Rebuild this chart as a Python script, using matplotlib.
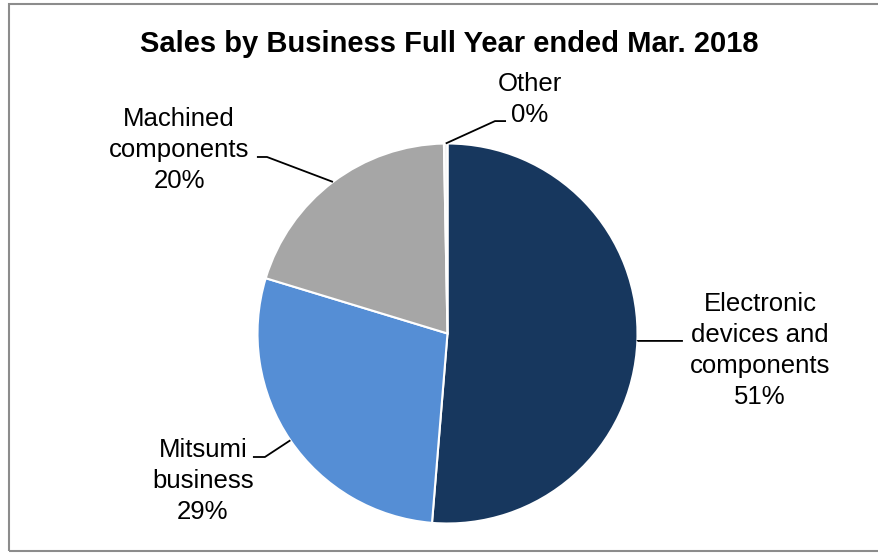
import matplotlib.pyplot as plt
import numpy as np
from matplotlib.patches import Rectangle

# Sales share by business (percent), clockwise from 12 o'clock
labels = ['Electronic\ndevices and\ncomponents', 'Mitsumi\nbusiness', 'Machined\ncomponents', 'Other']
shares = [51.3, 28.4, 20.0, 0.3]
shown_pct = ['51%', '29%', '20%', '0%']
colors = ['#17375E', '#558ED5', '#A6A6A6', '#F2F2F2']

# label layout (data units of the pie, radius = 1)
text_pos = [(1.645, -0.088), (-1.287, -0.775), (-1.413, 0.964), (0.434, 1.233)]
elbow_pos = [(1.0, -0.039), (-0.961, -0.65), (-0.95, 0.929), (0.25, 1.118)]
end_pos = [(1.239, -0.039), (-1.024, -0.65), (-1.003, 0.929), (0.308, 1.118)]

plt.rcParams['font.family'] = ['Liberation Sans', 'DejaVu Sans']

W, H = 879, 553
fig = plt.figure(figsize=(W / 100, H / 100), dpi=100)

# outer frame
fig.patches.append(Rectangle((9 / W, 1 - 551 / H), 1.0, (551 - 4) / H,
                             transform=fig.transFigure, fill=False,
                             edgecolor='#8C8C8C', linewidth=1.5))

fig.text(449.5 / W, 1 - 44 / H, 'Sales by Business Full Year ended Mar. 2018',
         ha='center', va='center', fontsize=21, fontweight='bold')

cx, cy, r = 447.5, 333.5, 190
ax = fig.add_axes([(cx - r) / W, (H - cy - r) / H, 2 * r / W, 2 * r / H])
wedges, _ = ax.pie(shares, colors=colors, startangle=90, counterclock=False,
                   radius=1, wedgeprops=dict(edgecolor='white', linewidth=1.5))
ax.set_xlim(-1, 1)
ax.set_ylim(-1, 1)
ax.set_aspect('equal')
ax.axis('off')

for w, lab, pct, tp, el, en in zip(wedges, labels, shown_pct, text_pos, elbow_pos, end_pos):
    mid = np.deg2rad((w.theta1 + w.theta2) / 2)
    sx, sy = np.cos(mid), np.sin(mid)
    ax.plot([sx, el[0], en[0]], [sy, el[1], en[1]], color='black', lw=1.3,
            clip_on=False, solid_capstyle='butt')
    ax.text(tp[0], tp[1], lab + '\n' + pct, ha='center', va='center',
            fontsize=18.5, linespacing=1.37, clip_on=False)

fig.savefig('out.png', dpi=100)
